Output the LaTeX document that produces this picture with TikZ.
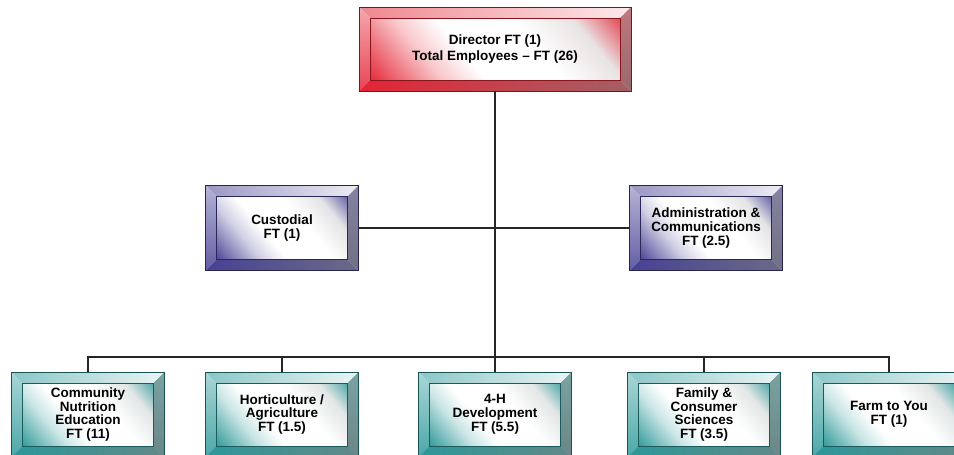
\documentclass[tikz,border=0pt]{standalone}
\usepackage{fontspec}
\setmainfont{Liberation Sans}
\usepackage{tikz}

\definecolor{dirred}{RGB}{228,36,52}
\definecolor{unitblue}{RGB}{70,66,148}
\definecolor{unitteal}{RGB}{44,152,152}

% face of a box: colour in two corners, white across the middle
\colorlet{facecol}{gray}
\colorlet{facemid}{white}
\colorlet{facelow}{gray}
\pgfdeclareverticalshading[facecol,facemid,facelow]{bevelface}{100bp}{%
  color(0bp)=(facecol); color(14bp)=(facecol); color(32bp)=(facemid);
  color(42bp)=(white); color(60bp)=(white); color(74bp)=(facelow);
  color(88bp)=(facecol); color(100bp)=(facecol)}

\tikzset{
  beveled/.style={rectangle, inner sep=0pt, align=center, text=black,
    draw=#1!55!black, line width=0.5pt,
    path picture={
      \colorlet{facecol}{#1}
      \colorlet{facemid}{#1!25!white}
      \colorlet{facelow}{#1!15!gray!20!white}
      \coordinate (pNW) at (path picture bounding box.north west);
      \coordinate (pNE) at (path picture bounding box.north east);
      \coordinate (pSE) at (path picture bounding box.south east);
      \coordinate (pSW) at (path picture bounding box.south west);
      \coordinate (qNW) at ([shift={(11pt,-11pt)}]pNW);
      \coordinate (qNE) at ([shift={(-11pt,-11pt)}]pNE);
      \coordinate (qSE) at ([shift={(-11pt,11pt)}]pSE);
      \coordinate (qSW) at ([shift={(11pt,11pt)}]pSW);
      % face
      \shade[shading=bevelface, shading angle=-50] (qNW) rectangle (qSE);
      % bevels
      \shade[left color=#1!55!white, right color=#1!10!white]
        (pNW) -- (pNE) -- (qNE) -- (qNW) -- cycle;
      \shade[top color=#1!40!white, bottom color=#1!85!white]
        (pNW) -- (qNW) -- (qSW) -- (pSW) -- cycle;
      \shade[top color=#1!45!gray!80!white, bottom color=#1!25!gray]
        (pNE) -- (pSE) -- (qSE) -- (qNE) -- cycle;
      \shade[left color=#1, right color=#1!35!gray]
        (pSW) -- (qSW) -- (qSE) -- (pSE) -- cycle;
      \draw[#1!60!black, line width=0.3pt] (qNW) rectangle (qSE);
    }},
  topunit/.style={beveled=dirred, minimum width=272pt, minimum height=84pt,
    font=\bfseries\fontsize{13.5}{16.5}\selectfont},
  unit/.style={beveled=#1, minimum width=153pt, minimum height=85pt,
    font=\bfseries\fontsize{13.5}{13.8}\selectfont},
  link/.style={draw=black!85, line width=1.2pt}
}

\begin{document}
\begin{tikzpicture}[x=1pt, y=-1pt]
  \useasboundingbox (0,0) rectangle (954,455);
  \clip (0,0) rectangle (954,455);

  % director
  \node[topunit] (dir) at (495,49) {Director FT (1)\\Total Employees -- FT (26)};

  % staff units
  \node[unit=unitblue] (cust) at (282,228) {Custodial\\FT (1)};
  \node[unit=unitblue] (admin) at (706,228) {Administration \&\\Communications\\FT (2.5)};

  % program areas
  \node[unit=unitteal] (cne) at (88,414.5) {Community\\Nutrition\\Education\\FT (11)};
  \node[unit=unitteal] (hort) at (282,414.5) {Horticulture /\\Agriculture\\FT (1.5)};
  \node[unit=unitteal] (fourh) at (495,414.5) {4-H\\Development\\FT (5.5)};
  \node[unit=unitteal] (fcs) at (704,414.5) {Family \&\\Consumer\\Sciences\\FT (3.5)};
  \node[unit=unitteal] (farm) at (889,414.5) {Farm to You\\FT (1)};

  \coordinate (hub) at (495,357);

  \draw[link] (dir.south) -- (hub);
  \draw[link] (cust.east) -- (admin.west);
  \foreach \n in {cne,hort,fourh,fcs,farm}
    \draw[link] (hub) -| (\n.north);
\end{tikzpicture}
\end{document}
